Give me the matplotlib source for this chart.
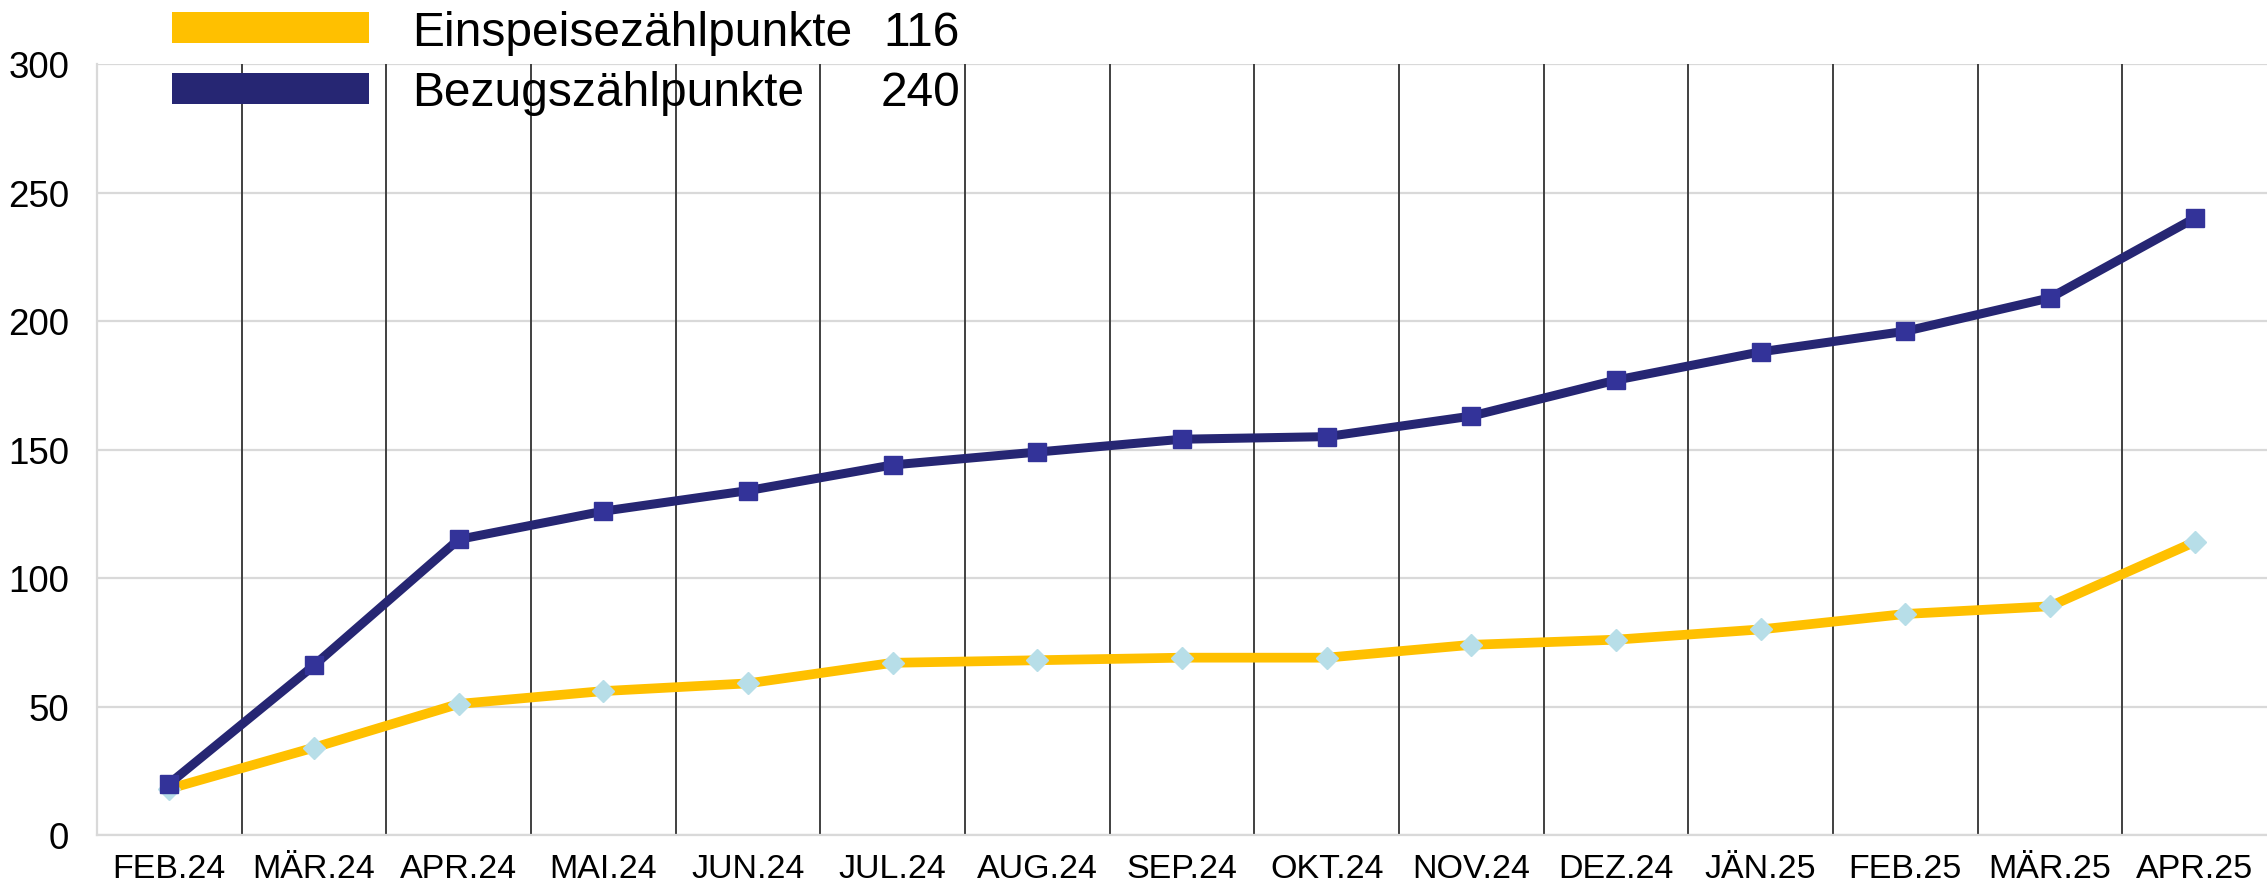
import matplotlib.pyplot as plt
from matplotlib.patches import Rectangle
import numpy as np

months = ['FEB.24', 'MÄR.24', 'APR.24', 'MAI.24', 'JUN.24', 'JUL.24', 'AUG.24',
          'SEP.24', 'OKT.24', 'NOV.24', 'DEZ.24', 'JÄN.25', 'FEB.25', 'MÄR.25', 'APR.25']
einspeise = [18, 34, 51, 56, 59, 67, 68, 69, 69, 74, 76, 80, 86, 89, 114]
bezug = [20, 66, 115, 126, 134, 144, 149, 154, 155, 163, 177, 188, 196, 209, 240]
legend_names = ['Einspeisezählpunkte', 'Bezugszählpunkte']
legend_values = ['116', '240']

YELLOW = '#FFC000'
NAVY = '#262673'

plt.rcParams['font.family'] = ['Liberation Sans', 'DejaVu Sans']

W, H = 2267, 887
fig = plt.figure(figsize=(W / 100, H / 100), dpi=100)
ax = fig.add_axes([97 / W, (H - 836) / H, 1 - 97 / W, (836 - 65) / H])

x = np.arange(len(months))

# vertical separators between months
for b in x[:-1] + 0.5:
    ax.axvline(b, color='#404040', lw=1.4, zorder=1)
ax.grid(axis='y', color='#d9d9d9', lw=1.6, zorder=0)
ax.set_axisbelow(True)

ax.plot(x, einspeise, color=YELLOW, lw=7, marker='D', ms=11,
        mfc='#B7DEE8', mec='#B7DEE8', zorder=3)
ax.plot(x, bezug, color=NAVY, lw=6.5, marker='s', ms=13.5,
        mfc='#333399', mec='#333399', zorder=4)

ax.set_xlim(-0.5, len(months) - 0.5)
ax.set_ylim(0, 300)
ax.set_yticks([0, 50, 100, 150, 200, 250, 300])
ax.set_xticks(x)
ax.set_xticklabels(months)
ax.tick_params(axis='both', length=0)
ax.tick_params(axis='y', labelsize=26.5, pad=20)
ax.tick_params(axis='x', labelsize=24.5, pad=13)

for s in ['top', 'right']:
    ax.spines[s].set_visible(False)
for s in ['left', 'bottom']:
    ax.spines[s].set_color('#d9d9d9')
    ax.spines[s].set_linewidth(1.6)

# legend drawn by hand
for i, (name, val, col) in enumerate(zip(legend_names, legend_values, [YELLOW, NAVY])):
    top = 13 + i * 61
    fig.add_artist(Rectangle((172 / W, 1 - (top + 31) / H), 197 / W, 31 / H,
                             transform=fig.transFigure, color=col, lw=0))
    yc = 1 - (top + 20) / H
    fig.text(412 / W, yc, name, fontsize=34.5, va='center', ha='left')
    fig.text(960 / W, yc, val, fontsize=34.5, va='center', ha='right')

fig.savefig('out.png', dpi=100)
